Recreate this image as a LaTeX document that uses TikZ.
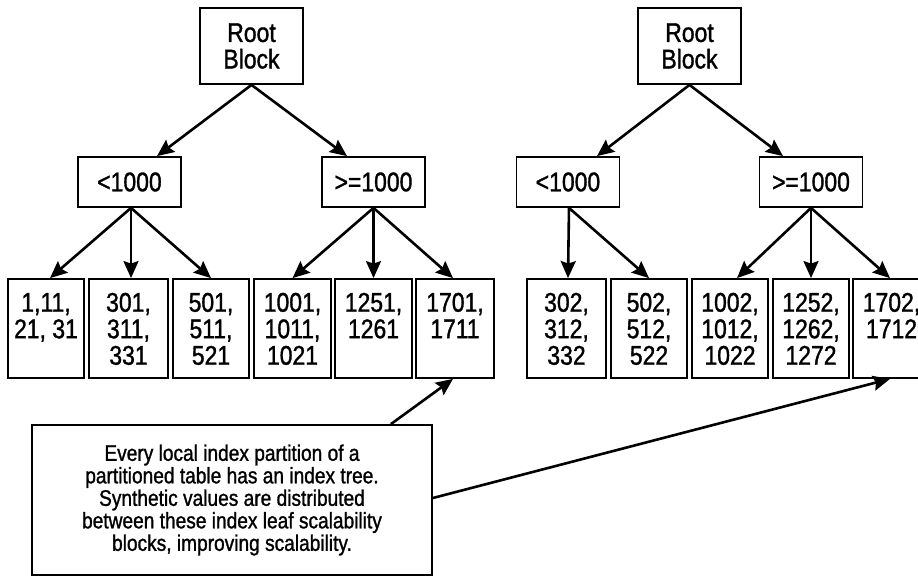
\documentclass[tikz,border=0pt]{standalone}
\usepackage{fontspec}
\setmainfont{Liberation Sans}[FakeStretch=0.85,FakeBold=1.2]
\usetikzlibrary{arrows.meta}
\newcommand\leaftext[2]{\parbox[c][99pt][t]{#1}{\centering\rule{0pt}{32.7pt}#2}}
\begin{document}
\begin{tikzpicture}[x=1pt,y=-1pt,
  box/.style={draw,line width=1.8pt,inner sep=0pt,font=\fontsize{27}{26.5}\selectfont},
  mid/.style={box,minimum width=103pt,minimum height=50pt},
  rootbox/.style={box,minimum width=103pt,minimum height=76pt,align=center},
  leaf/.style={box},
  note/.style={draw,line width=1.8pt,inner sep=0pt,minimum width=400pt,minimum height=150pt,align=center,font=\fontsize{22.5}{22.5}\selectfont},
  arr/.style={line width=2.6pt,-{Stealth[length=17pt,width=15pt,inset=2.5pt]}}]
\clip (0,0) rectangle (918,577);
% left tree
\node[rootbox] (r1) at (251.5,46) {Root\\Block};
\node[mid] (a1) at (129.5,182) {<1000};
\node[mid] (b1) at (373.5,182) {>=1000};
\node[leaf] (l1) at (46,328.5) {\leaftext{76pt}{1,11,\\21, 31}};
\node[leaf] (l2) at (128.5,328.5) {\leaftext{79pt}{301,\\311,\\331}};
\node[leaf] (l3) at (211,328.5) {\leaftext{76pt}{501,\\511,\\521}};
\node[leaf] (l4) at (292.5,328.5) {\leaftext{77pt}{1001,\\1011,\\1021}};
\node[leaf] (l5) at (373.5,328.5) {\leaftext{77pt}{1251,\\1261}};
\node[leaf] (l6) at (455,328.5) {\leaftext{78pt}{1701,\\1711}};
% right tree
\node[rootbox] (r2) at (689.5,46) {Root\\Block};
\node[mid] (a2) at (568,182) {<1000};
\node[mid] (b2) at (811,182) {>=1000};
\node[leaf] (m1) at (566.5,328.5) {\leaftext{79pt}{302,\\312,\\332}};
\node[leaf] (m2) at (649,328.5) {\leaftext{76pt}{502,\\512,\\522}};
\node[leaf] (m3) at (730,328.5) {\leaftext{76pt}{1002,\\1012,\\1022}};
\node[leaf] (m4) at (811,328.5) {\leaftext{76pt}{1252,\\1262,\\1272}};
\node[leaf] (m5) at (891.5,328.5) {\leaftext{77pt}{1702,\\1712}};
% callout
\node[note] (nt) at (232,500) {Every local index partition of a\\partitioned table has an index tree.\\Synthetic values are distributed\\between these index leaf scalability\\blocks, improving scalability.};
% arrows left
\draw[arr] (r1.south) -- ([xshift=27.5pt]a1.north);
\draw[arr] (r1.south) -- ([xshift=-26.5pt]b1.north);
\draw[arr] ([xshift=1.5pt]a1.south) -- ([xshift=4pt]l1.north);
\draw[arr] ([xshift=1.5pt]a1.south) -- ([xshift=2.5pt]l2.north);
\draw[arr] ([xshift=1.5pt]a1.south) -- (l3.north);
\draw[arr] (b1.south) -- (l4.north);
\draw[arr] (b1.south) -- (b1.south |- l5.north);
\draw[arr] (b1.south) -- ([xshift=-2pt]l6.north);
% arrows right
\draw[arr] (r2.south) -- ([xshift=29pt]a2.north);
\draw[arr] (r2.south) -- ([xshift=-28pt]b2.north);
\draw[arr] ([xshift=1pt]a2.south) -- ([xshift=1.5pt]m1.north);
\draw[arr] ([xshift=1pt]a2.south) -- (m2.north);
\draw[arr] (b2.south) -- ([xshift=7pt]m3.north);
\draw[arr] (b2.south) -- (b2.south |- m4.north);
\draw[arr] (b2.south) -- ([xshift=-1.5pt]m5.north);
% callout arrows
\draw[arr] ([xshift=-42pt]nt.north east) -- ([xshift=-2pt]l6.south);
\draw[arr] ([yshift=2pt]nt.east) -- ([xshift=-1.5pt]m5.south);
\end{tikzpicture}
\end{document}
